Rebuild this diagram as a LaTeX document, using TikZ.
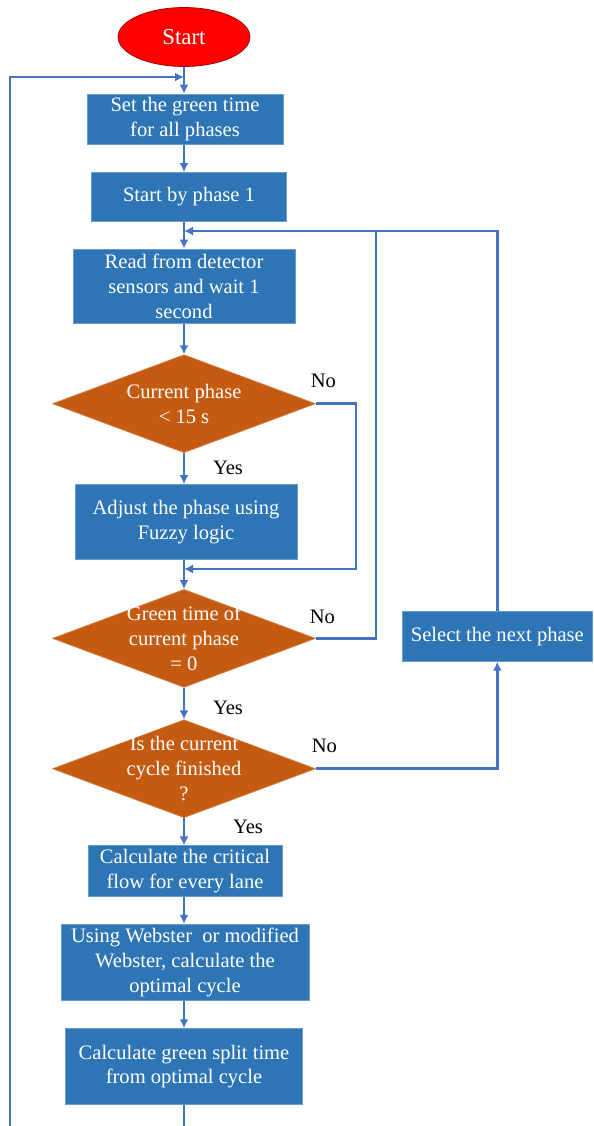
\documentclass[tikz,border=0pt]{standalone}
\usepackage{fontspec}
\setmainfont{Liberation Serif}
\usepackage{tikz}
\usetikzlibrary{arrows.meta,positioning,shapes.geometric,calc}
\definecolor{boxblue}{HTML}{2E75B6}
\definecolor{boxedge}{HTML}{6A9BD0}
\definecolor{decorange}{HTML}{C55A11}
\definecolor{linkblue}{HTML}{4472C4}
\definecolor{startred}{HTML}{FF0000}
\newcommand{\ftaille}{\fontsize{11.7}{14.2}\selectfont}
\tikzstyle{etape} = [draw=boxedge, line width=0.4pt, fill=boxblue, text=white,
align=center, font=\ftaille, inner sep=2pt]
\tikzstyle{depart} = [ellipse, draw=red!60!black, line width=0.4pt, fill=startred, text=white,
minimum width=2.64cm, minimum height=1.18cm, font=\fontsize{13}{15}\selectfont]
\tikzstyle{choix} = [diamond, draw=decorange!80!white, line width=0.4pt, fill=decorange,
inner sep=0pt, minimum width=5.26cm, minimum height=1.96cm]
\tikzstyle{choixtexte} = [text=white, align=center, font=\ftaille, inner sep=0pt]
\tikzstyle{texto} = [text=black, font=\ftaille, inner sep=0pt]
\tikzstyle{line} = [draw, line width=1.5pt, color=linkblue, -{Latex[length=1.8mm,width=1.8mm]}]
\tikzstyle{trait} = [draw, line width=1.5pt, color=linkblue]
\newcommand{\etape}[4]{node (p#1)[etape, minimum width=#2, minimum height=#3]{#4}}
\newcommand{\choix}[2]{node (d#1)[choix]{} node (d#1t)[choixtexte]{#2}}

\begin{document}
\begin{tikzpicture}[x=0.02cm, y=-0.02cm]
		\useasboundingbox (0,0) rectangle (593,1126);
		
		% Draw diagram elements
		\path (184,37) node (p1)[depart]{Start};
		\path (p1.south)+(1,52.5) \etape{2}{3.92cm}{1.0cm}{Set the green time\\for all phases};
		\path (p2.south)+(4,52) \etape{3}{3.9cm}{0.98cm}{Start by phase 1};
		\path (p3.south)+(-5,64.5) \etape{4}{4.44cm}{1.5cm}{Read from detector\\sensors and wait 1\\second};
		\path (p4.south)+(0,79.5) \choix{1}{Current phase\\< 15 s};
		\path (d1.south)+(2,69) \etape{5}{4.44cm}{1.5cm}{Adjust the phase using\\Fuzzy logic};
		\path (p5.south)+(-2,78.5) \choix{2}{Green time of\\current phase\\= 0};
		\path (d2.east)+(181.5,-2) \etape{6}{3.8cm}{1.0cm}{Select the next phase};
		\path (d2.south)+(0,81) \choix{3}{Is the current\\cycle finished\\?};
		\path (d3.south)+(1,53) \etape{7}{3.88cm}{0.98cm}{Calculate the critical\\flow for every lane};
		\path (p7.south)+(0,65.5) \etape{8}{4.96cm}{1.52cm}{Using Webster~ or modified\\Webster, calculate the\\optimal cycle};
		\path (p8.south)+(-1,66) \etape{9}{4.74cm}{1.52cm}{Calculate green split time\\from optimal cycle};
		
		% Labels of the decisions
		\path (d1.east)+(7.5,-23) node (n1)[texto]{No};
		\path (d2.east)+(6.5,-22) node (n2)[texto]{No};
		\path (d3.east)+(8.5,-23) node (n3)[texto]{No};
		\path (d1.south)+(44,15) node (y1)[texto]{Yes};
		\path (d2.south)+(44,20) node (y2)[texto]{Yes};
		\path (d3.south)+(64,9) node (y3)[texto]{Yes};
		
		% Joints of the loops
		\coordinate (m1) at (184,77);
		\coordinate (m2) at (184,231);
		\coordinate (m3) at (184,569);
		\coordinate (k1) at (356,569);
		\coordinate (j1) at (376,231);
		\coordinate (gauche) at (10,1130);
		\coordinate (bas) at (184,1130);
		
		% Draw arrows between elements
		\path [line] (p1.south) -- (p2.north -| p1);
		\path [line] (p2.south -| p1) -- (p3.north -| p1);
		\path [line] (p3.south -| p1) -- (p4.north -| p1);
		\path [line] (p4.south -| p1) -- (d1.north);
		\path [line] (d1.south) -- (p5.north -| p1);
		\path [line] (p5.south -| p1) -- (d2.north);
		\path [line] (d2.south) -- (d3.north);
		\path [line] (d3.south) -- (p7.north -| p1);
		\path [line] (p7.south -| p1) -- (p8.north -| p1);
		\path [line] (p8.south -| p1) -- (p9.north -| p1);
		\path [trait] (p9.south -| p1) -- (bas);
		\path [line] (gauche) |- (m1);
		\path [line] (d1.east) -| (k1) -- (m3);
		\path [trait] (d2.east) -| (j1);
		\path [line] (d3.east) -| (p6.south);
		\path [line] (p6.north) |- (m2);
		
\end{tikzpicture}
\end{document}
